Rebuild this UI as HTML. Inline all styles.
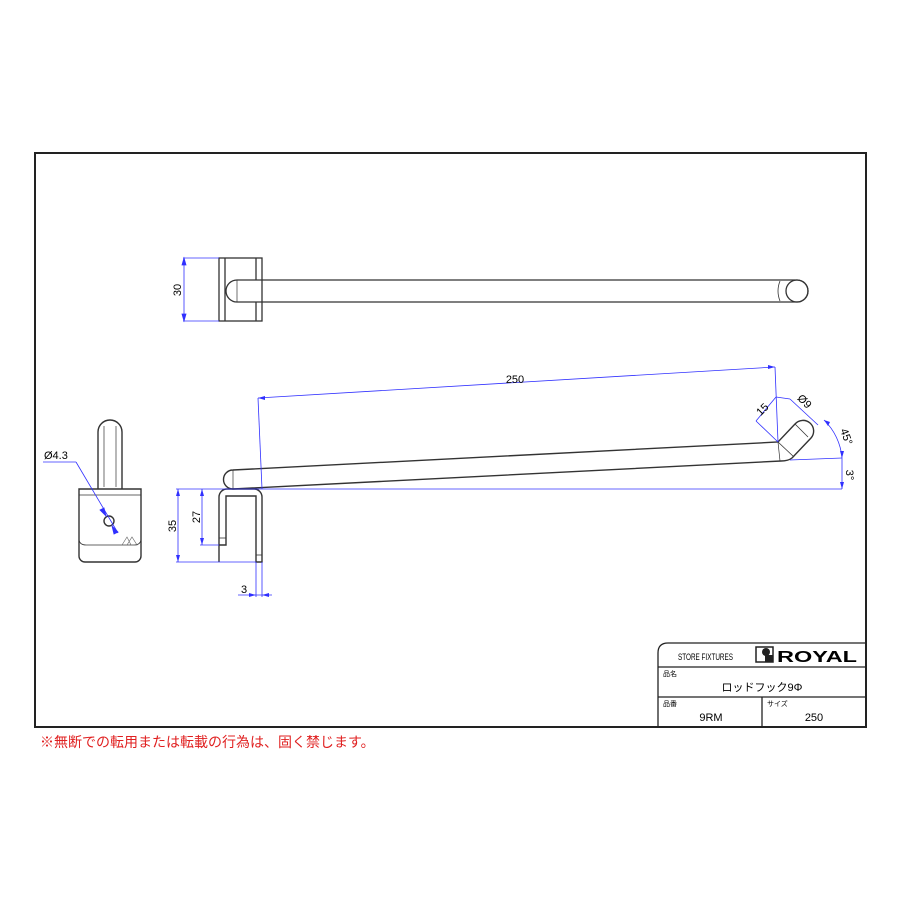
<!DOCTYPE html>
<html><head><meta charset="utf-8"><style>
body{margin:0;background:#fff;width:900px;height:900px;overflow:hidden}
svg{display:block}
text{font-family:"Liberation Sans","Noto Sans CJK JP",sans-serif}
</style></head><body>
<svg width="900" height="900" viewBox="0 0 900 900" xmlns="http://www.w3.org/2000/svg">
<rect x="35" y="153" width="831" height="574" fill="none" stroke="#222" stroke-width="2"/>
<!-- top view -->
<g stroke="#333" fill="none" stroke-width="1.3">
<rect x="219" y="258" width="43" height="63"/>
<line x1="225" y1="258" x2="225" y2="321"/>
<line x1="256" y1="258" x2="256" y2="280"/><line x1="256" y1="302" x2="256" y2="321"/>
<path d="M237 280 L797 280 A11 11 0 0 1 797 302 L237 302 A11 11 0 0 1 237 280"/>
<line x1="237" y1="280" x2="237" y2="302" stroke-width="0.7"/>
<circle cx="797" cy="291" r="11"/>
<path d="M780 281 Q776 291 780 301" stroke-width="0.8"/>
</g>
<g stroke="#3030ff" stroke-width="0.8" fill="#3030ff">
<line x1="183" y1="258" x2="219" y2="258"/><line x1="183" y1="321" x2="219" y2="321"/>
<line x1="184" y1="258" x2="184" y2="321"/>
<polygon points="184,258 182,265 186,265"/><polygon points="184,321 182,314 186,314"/>
</g>
<text x="181" y="290" font-size="11" transform="rotate(-90 181 290)" text-anchor="middle">30</text>
<!-- side view rod -->
<g stroke="#333" fill="none" stroke-width="1.4">
<path d="M233 470 L778 442 L795 424 A8 8 0 0 1 811 438 L792 458 Q788 461 781 461 L233 489 A9.5 9.5 0 0 1 233 470"/>
<line x1="233" y1="470" x2="233" y2="489" stroke-width="0.7"/>
<line x1="778" y1="442" x2="794" y2="457" stroke-width="0.8"/>
<line x1="795" y1="424" x2="808" y2="437" stroke-width="0.8"/>
<line x1="778" y1="442" x2="780" y2="461" stroke-width="0.7"/>
<path d="M219 562 L219 497 A8 8 0 0 1 227 489 L254 489 A8 8 0 0 1 262 497 L262 562 L256 562 L256 496 L226 496 L226 545 L219 545"/>
<rect x="219" y="538" width="7" height="7" stroke-width="0.8"/>
<rect x="256" y="555" width="6" height="7" stroke-width="0.8"/>
</g>
<g stroke="#3030ff" stroke-width="0.8" fill="none">
<line x1="176" y1="489" x2="842" y2="489"/>
<line x1="176" y1="562" x2="256" y2="562"/>
<line x1="200" y1="545" x2="219" y2="545"/>
<line x1="178" y1="489" x2="178" y2="562"/>
<line x1="202" y1="489" x2="202" y2="545"/>
<line x1="256" y1="562" x2="256" y2="597"/><line x1="262" y1="562" x2="262" y2="597"/>
<line x1="238" y1="595" x2="272" y2="595"/>
<line x1="258" y1="398" x2="775" y2="367"/>
<line x1="258" y1="398" x2="262" y2="489"/>
<line x1="775" y1="367" x2="778" y2="442"/>
<line x1="778" y1="442" x2="756" y2="421"/>
<line x1="776" y1="397" x2="756" y2="421"/>
<line x1="790" y1="399" x2="818" y2="425"/>
<line x1="776" y1="397" x2="790" y2="399"/>
<line x1="790" y1="460" x2="842" y2="458"/>
<path d="M824 420 A60 60 0 0 1 842 458"/>
<line x1="842" y1="458" x2="842" y2="489"/>
</g>
<g fill="#3030ff">
<polygon points="178,489 176,496 180,496"/><polygon points="178,562 176,555 180,555"/>
<polygon points="202,489 200,496 204,496"/><polygon points="202,545 200,538 204,538"/>
<polygon points="256,595 249,593 249,597"/><polygon points="262,595 269,593 269,597"/>
<polygon points="258,398 265,396 265,400"/><polygon points="775,367 768,365 768,369"/>
<polygon points="842,458 840,451 844,451"/><polygon points="842,489 840,482 844,482"/>
<polygon points="824,420 828,426 830,422"/>
</g>
<text x="515" y="383" font-size="11" text-anchor="middle">250</text>
<text x="176" y="526" font-size="11" transform="rotate(-90 176 526)" text-anchor="middle">35</text>
<text x="200" y="517" font-size="11" transform="rotate(-90 200 517)" text-anchor="middle">27</text>
<text x="244" y="593" font-size="11" text-anchor="middle">3</text>
<text x="765" y="412" font-size="11" transform="rotate(-45 765 412)" text-anchor="middle">15</text>
<text x="802" y="404" font-size="11" transform="rotate(45 802 404)" text-anchor="middle">Ø9</text>
<text x="843" y="438" font-size="11" transform="rotate(70 843 438)" text-anchor="middle">45°</text>
<text x="846" y="475" font-size="11" transform="rotate(90 846 475)" text-anchor="middle">3°</text>
<!-- front view -->
<g stroke="#333" fill="none" stroke-width="1.4">
<path d="M98 489 L98 432 A12 12 0 0 1 122 432 L122 489"/>
<line x1="104" y1="426" x2="104" y2="487" stroke-width="0.7"/>
<line x1="116" y1="426" x2="116" y2="487" stroke-width="0.7"/>
<path d="M79 489 L141 489 L141 556 A6 6 0 0 1 135 562 L85 562 A6 6 0 0 1 79 556 Z"/>
<line x1="79" y1="495" x2="141" y2="495" stroke-width="0.7"/>
<path d="M79 540 Q80 545 86 545 L134 545 Q140 545 141 540" stroke-width="0.7"/>
<circle cx="109" cy="521" r="5"/>
</g>
<path d="M122 545 L127 537 L131 545 Z M127 545 L132 537 L137 545 Z" stroke="#666" stroke-width="0.6" fill="none"/>
<g stroke="#3030ff" stroke-width="0.8" fill="#3030ff">
<line x1="43" y1="462" x2="76" y2="462"/><line x1="76" y1="462" x2="118" y2="533"/>
<polygon points="106,516 100,510 104,508"/><polygon points="112,526 118,532 114,534"/>
</g>
<text x="44" y="459" font-size="11">Ø4.3</text>
<!-- title block -->
<g stroke="#222" fill="none" stroke-width="1.3">
<path d="M866 643 L668 643 Q658 643 658 653 L658 727"/>
<line x1="658" y1="667" x2="866" y2="667"/>
<line x1="658" y1="697" x2="866" y2="697"/>
<line x1="762" y1="697" x2="762" y2="727"/>
<rect x="756" y="647" width="17" height="15" stroke-width="1.5"/>
</g>
<circle cx="766" cy="652" r="4" fill="#222"/>
<rect x="765" y="655" width="8" height="7" fill="#222"/>
<text x="678" y="660" font-size="9" textLength="55" lengthAdjust="spacingAndGlyphs">STORE FIXTURES</text>
<text x="777" y="662" font-size="16" font-weight="bold" textLength="80" lengthAdjust="spacingAndGlyphs">ROYAL</text>
<text x="663" y="676" font-size="7">品名</text>
<text x="762" y="691" font-size="11" text-anchor="middle">ロッドフック9Φ</text>
<text x="663" y="706" font-size="7">品番</text>
<text x="767" y="706" font-size="7">サイズ</text>
<text x="711" y="721" font-size="11" text-anchor="middle">9RM</text>
<text x="814" y="721" font-size="11" text-anchor="middle">250</text>
<text x="40" y="747" font-size="14" fill="#e02020">※無断での転用または転載の行為は、固く禁じます。</text>
</svg>
</body></html>
